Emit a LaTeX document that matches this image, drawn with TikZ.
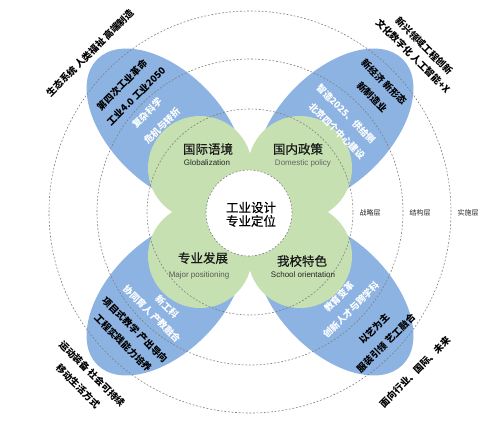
\documentclass[tikz,border=0pt]{standalone}
\usepackage{fontspec}
\setmainfont{Liberation Sans}
\newfontfamily\cjk{Noto Sans CJK SC}
\newfontfamily\cjkmed[FakeBold=0.5]{Noto Sans CJK SC}
\definecolor{petalblue}{HTML}{8DB3E2}
\definecolor{petalgreen}{HTML}{C6E0B1}
\definecolor{ringgray}{HTML}{7E7E7E}
\tikzset{
  ring/.style={draw=ringgray, line width=0.6pt, dash pattern=on 1.8pt off 1.8pt},
  darktxt/.style={font=\cjk\bfseries\fontsize{9.5}{11}\selectfont, text=black, inner sep=0pt},
  whitetxt/.style={font=\cjk\bfseries\fontsize{9.3}{11}\selectfont, text=white, inner sep=0pt},
  greencn/.style={font=\cjkmed\fontsize{12.5}{14}\selectfont, text=black!90, inner sep=0pt},
  greenen/.style={font=\fontsize{8}{9}\selectfont, inner sep=0pt},
  centertxt/.style={font=\cjkmed\fontsize{12.5}{14}\selectfont, text=black, inner sep=0pt},
  layertxt/.style={font=\cjk\fontsize{7}{8}\selectfont, text=black!85, inner sep=0pt}
}
\begin{document}
\begin{tikzpicture}[x=1pt,y=1pt]
\useasboundingbox (0,0) rectangle (500,424);
\coordinate (c) at (250,212);
% blue petals
\foreach \a in {45,135,225,315}
  \fill[petalblue, rotate around={\a:(c)}] (370,212) ellipse [x radius=96, y radius=56];
% green petals
\fill[petalgreen] (200,256) circle [radius=52];
\fill[petalgreen] (300,256) circle [radius=52];
\fill[petalgreen] (200,168) circle [radius=52];
\fill[petalgreen] (300,168) circle [radius=52];
% dashed rings
\draw[ring] (c) circle [radius=103];
\draw[ring] (c) circle [radius=153];
\draw[ring] (c) circle [radius=201];
% centre
\filldraw[fill=white, ring] (249,211) circle [radius=43];
\node[centertxt] (c1) at (251,216.5) {工业设计};
\node[centertxt] (c2) at (251,203) {专业定位};
% green labels
\node[greencn] (g1) at (208,275) {国际语境};
\node[greenen, text=black!85] (g1e) at (207,261) {Globalization};
\node[greencn] (g2) at (298,275) {国内政策};
\node[greenen, text=black!60] (g2e) at (303,261) {Domestic policy};
\node[greencn] (g3) at (203,166) {专业发展};
\node[greenen, text=black!65] (g3e) at (199,149) {Major positioning};
\node[greencn] (g4) at (302,163) {我校特色};
\node[greenen, text=black!85] (g4e) at (303,149) {School orientation};
% layer labels
\node[layertxt] (l1) at (370,211) {战略层};
\node[layertxt] (l2) at (420,211) {结构层};
\node[layertxt] (l3) at (468,211) {实施层};
% top-left
\node[darktxt, rotate=45] (tlo) at (90,371) {生态系统 人类福祉 高端制造};
\node[darktxt, rotate=45] (tlb1) at (122,339) {第四次工业革命};
\node[darktxt, rotate=45] (tlb2) at (136,328) {工业4.0 工业2050};
\node[whitetxt, rotate=45] (tlw1) at (147,311) {复杂科学};
\node[whitetxt, rotate=45] (tlw2) at (162,298) {危机与转折};
% top-right
\node[darktxt, rotate=-45] (tro1) at (424,378) {新兴领域工程创新};
\node[darktxt, rotate=-45] (tro2) at (413,368) {文化数字化 人工智能+X};
\node[darktxt, rotate=-45] (trb1) at (384,342) {新经济 新形态};
\node[darktxt, rotate=-45] (trb2) at (372,327) {新制造业};
\node[whitetxt, rotate=-45] (trw1) at (346,310) {智造2025、供给侧};
\node[whitetxt, rotate=-45] (trw2) at (337,293) {北京四个中心建设};
% bottom-left
\node[darktxt, rotate=-45] (blo1) at (92,50) {运动装备 社会可持续};
\node[darktxt, rotate=-45] (blo2) at (78,38) {移动生活方式};
\node[darktxt, rotate=-45] (blb1) at (135,94) {项目式教学 产出导向};
\node[darktxt, rotate=-45] (blb2) at (123,81) {工程实践能力培养};
\node[whitetxt, rotate=-45] (blw1) at (167,117) {新工科};
\node[whitetxt, rotate=-45] (blw2) at (152,110) {协同育人 产教融合};
% bottom-right
\node[darktxt, rotate=45] (bro) at (415,52) {面向行业、国际、未来};
\node[darktxt, rotate=45] (brb1) at (374,95) {以艺为主};
\node[darktxt, rotate=45] (brb2) at (386,81) {服装引领 艺工融合};
\node[whitetxt, rotate=45] (brw1) at (339,127) {教育变革};
\node[whitetxt, rotate=45] (brw2) at (351,114) {创新人才与跨学科};
\end{tikzpicture}
\end{document}
